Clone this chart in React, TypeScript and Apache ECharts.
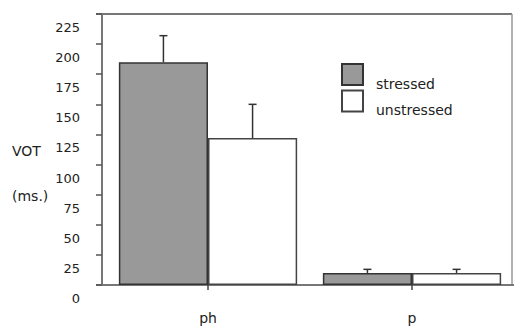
import React, { useEffect, useRef } from "react";
import * as echarts from "echarts";

const categories = ["ph", "p"];
const seriesNames = ["stressed", "unstressed"];
const stressedValues = [185, 10];
const unstressedValues = [122, 10];
const stressedErrors = [22, 3];
const unstressedErrors = [28, 3];
const yMin = 0;
const yMax = 225;
const yInterval = 25;

const FONT = "DejaVu Sans";
const BAR_GAP_PCT = 12.6;

export default function App() {
  const ref = useRef<HTMLDivElement>(null);
  useEffect(() => {
    if (!ref.current) return;
    const chart = echarts.init(ref.current, undefined, { renderer: "svg" });

    const errData: any[] = [];
    stressedValues.forEach((v, i) => errData.push([i, v, stressedErrors[i], 0]));
    unstressedValues.forEach((v, i) => errData.push([i, v, unstressedErrors[i], 1]));

    const renderErr = (params: any, api: any) => {
      const idx = api.value(0);
      const v = api.value(1);
      const e = api.value(2);
      const s = api.value(3);
      const band = api.size([1, 0])[0];
      const bw = (band * (1 - BAR_GAP_PCT / 100)) / 2;
      const cx = api.coord([idx, 0])[0] + (s === 0 ? -bw / 2 : bw / 2);
      const yb = api.coord([idx, v])[1];
      const yt = api.coord([idx, v + e])[1];
      const st = { stroke: "#333", lineWidth: 1.5 };
      return {
        type: "group",
        children: [
          { type: "line", shape: { x1: cx, y1: yb, x2: cx, y2: yt }, style: st },
          { type: "line", shape: { x1: cx - 4, y1: yt, x2: cx + 4, y2: yt }, style: st },
        ],
      };
    };

    chart.setOption({
      animation: false,
      grid: { left: 106, right: -4, top: 14, bottom: 44, containLabel: false },
      legend: {
        data: seriesNames.map((n) => ({ name: n, icon: "rect" })),
        orient: "vertical",
        left: 341,
        top: 63,
        padding: 0,
        itemWidth: 21,
        itemHeight: 21,
        itemGap: -1,
        formatter: "{t|{name}}",
        textStyle: {
          fontFamily: FONT,
          fontSize: 14,
          color: "#222",
          rich: { t: { fontFamily: FONT, fontSize: 14, color: "#222", padding: [18, 0, 0, 8] } },
        },
      },
      xAxis: {
        type: "category",
        data: categories,
        axisLine: { show: false },
        axisTick: { show: true, alignWithLabel: true, length: 5, lineStyle: { color: "#444", width: 1.5 } },
        axisLabel: { fontFamily: FONT, fontSize: 14, color: "#222", margin: 26 },
        splitLine: { show: false },
      },
      yAxis: {
        type: "value",
        min: yMin,
        max: yMax,
        interval: yInterval,
        offset: 4,
        axisLine: { show: true, lineStyle: { color: "#777", width: 2 } },
        axisTick: { show: true, length: 6, lineStyle: { color: "#555", width: 1.5 } },
        axisLabel: {
          fontFamily: FONT,
          fontSize: 13,
          color: "#222",
          margin: 22,
          verticalAlign: "top",
          padding: [7, 0, 0, 0],
        },
        splitLine: { show: false },
      },
      graphic: [
        { type: "line", shape: { x1: 96, y1: 14, x2: 512, y2: 14 }, style: { stroke: "#777", lineWidth: 2 } },
        { type: "line", shape: { x1: 512, y1: 14, x2: 512, y2: 285 }, style: { stroke: "#999", lineWidth: 1.5 } },
        { type: "line", shape: { x1: 96, y1: 285, x2: 514, y2: 285 }, style: { stroke: "#777", lineWidth: 2 } },
        { type: "text", left: 12, top: 144, style: { text: "VOT", fontFamily: FONT, fontSize: 14, fill: "#222" } },
        { type: "text", left: 12, top: 189, style: { text: "(ms.)", fontFamily: FONT, fontSize: 14, fill: "#222" } },
      ],
      series: [
        {
          name: seriesNames[0],
          type: "bar",
          data: stressedValues,
          barGap: "0%",
          barCategoryGap: BAR_GAP_PCT + "%",
          itemStyle: { color: "#999999", borderColor: "#333", borderWidth: 1.5 },
        },
        {
          name: seriesNames[1],
          type: "bar",
          data: unstressedValues,
          barGap: "0%",
          barCategoryGap: BAR_GAP_PCT + "%",
          itemStyle: { color: "#ffffff", borderColor: "#444", borderWidth: 1.5 },
        },
        {
          type: "custom",
          renderItem: renderErr,
          data: errData,
          encode: { x: 0, y: 1 },
          z: 10,
          silent: true,
        },
      ],
    });
    return () => chart.dispose();
  }, []);
  return <div ref={ref} style={{ width: 514, height: 329, position: "absolute", left: 0, top: 0 }} />;
}
